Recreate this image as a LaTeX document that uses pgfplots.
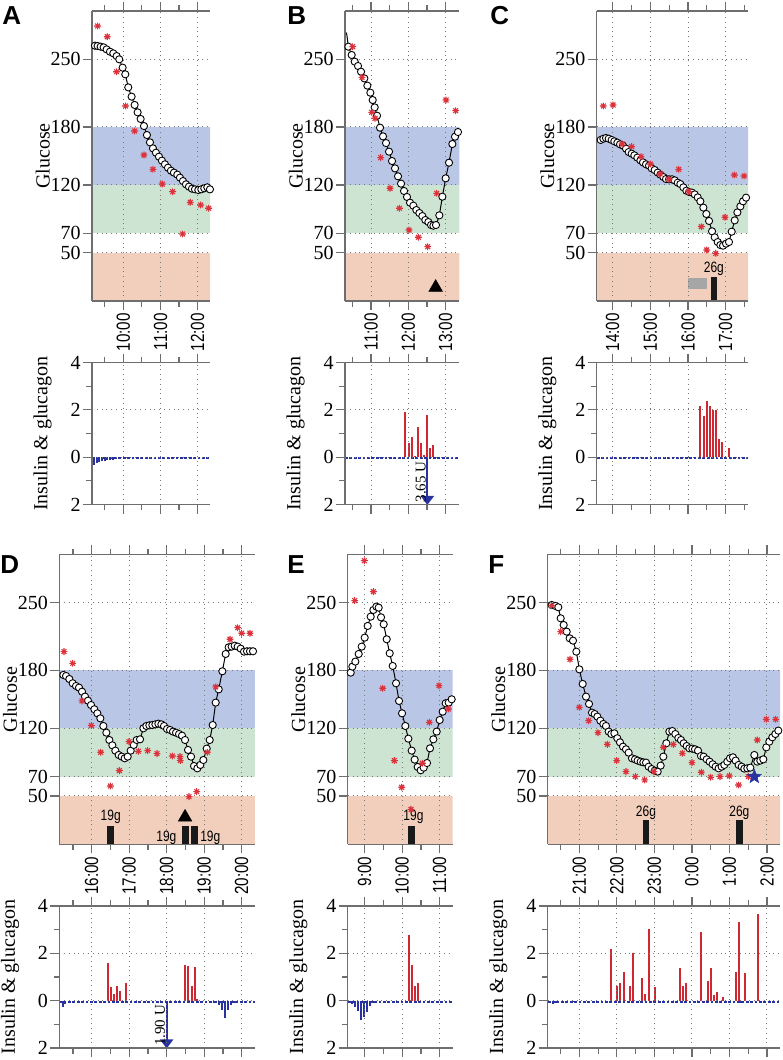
\documentclass[border=0pt]{standalone}
\usepackage{pgfplots}
\pgfplotsset{compat=1.18}
\usetikzlibrary{arrows.meta}
\usepackage{fontspec}
\setmainfont{Liberation Serif}
\newfontfamily\tms{Liberation Serif}
\newfontfamily\timefont[FakeStretch=0.8]{Liberation Sans}
\newfontfamily\helv{Liberation Sans}

\definecolor{bandblue}{RGB}{186,198,230}
\definecolor{bandgreen}{RGB}{204,228,209}
\definecolor{bandorange}{RGB}{242,207,188}
\definecolor{insred}{RGB}{208,40,50}
\definecolor{glucblue}{RGB}{40,50,160}
\definecolor{astred}{RGB}{220,50,60}
\definecolor{gridgray}{RGB}{120,120,120}
\definecolor{axgray}{RGB}{110,110,110}

\pgfdeclareplotmark{ast8}{%
 \pgfpathmoveto{\pgfqpoint{-\pgfplotmarksize}{0pt}}\pgfpathlineto{\pgfqpoint{\pgfplotmarksize}{0pt}}%
 \pgfpathmoveto{\pgfqpoint{0pt}{-\pgfplotmarksize}}\pgfpathlineto{\pgfqpoint{0pt}{\pgfplotmarksize}}%
 \pgfpathmoveto{\pgfqpoint{-0.707\pgfplotmarksize}{-0.707\pgfplotmarksize}}\pgfpathlineto{\pgfqpoint{0.707\pgfplotmarksize}{0.707\pgfplotmarksize}}%
 \pgfpathmoveto{\pgfqpoint{-0.707\pgfplotmarksize}{0.707\pgfplotmarksize}}\pgfpathlineto{\pgfqpoint{0.707\pgfplotmarksize}{-0.707\pgfplotmarksize}}%
 \pgfusepathqstroke}
\pgfdeclareplotmark{fstar}{%
 \pgfpathmoveto{\pgfqpointpolar{90}{\pgfplotmarksize}}%
 \pgfpathlineto{\pgfqpointpolar{126}{0.42\pgfplotmarksize}}%
 \pgfpathlineto{\pgfqpointpolar{162}{\pgfplotmarksize}}%
 \pgfpathlineto{\pgfqpointpolar{198}{0.42\pgfplotmarksize}}%
 \pgfpathlineto{\pgfqpointpolar{234}{\pgfplotmarksize}}%
 \pgfpathlineto{\pgfqpointpolar{270}{0.42\pgfplotmarksize}}%
 \pgfpathlineto{\pgfqpointpolar{306}{\pgfplotmarksize}}%
 \pgfpathlineto{\pgfqpointpolar{342}{0.42\pgfplotmarksize}}%
 \pgfpathlineto{\pgfqpointpolar{18}{\pgfplotmarksize}}%
 \pgfpathlineto{\pgfqpointpolar{54}{0.42\pgfplotmarksize}}%
 \pgfpathclose\pgfusepathqfillstroke}

\pgfplotsset{
  base/.style={scale only axis, axis x line*=box, axis y line*=left, tick align=outside,
    axis line style={axgray, line width=0.6pt}, tick style={axgray, line width=0.6pt},
    major tick length=4.5pt, minor tick length=2.8pt,
    grid=major, major grid style={gridgray, dotted, line width=0.5pt},
    /pgf/number format/assume math mode=true,
    yticklabel style={font=\tms\fontsize{10}{10}\selectfont, inner sep=1pt},
    xticklabel style={font=\timefont\fontsize{9.5}{9.5}\selectfont, rotate=90, anchor=east, inner sep=1.5pt},
    axis on top},
  gluc/.style={base, width=#1, height=145pt, ymin=0, ymax=300, ytick={50,70,120,180,250}},
  ins/.style={base, width=#1, height=71pt, ymin=-2, ymax=4, ytick={-2,0,2,4}, yticklabels={2,0,2,4},
    minor ytick={-1,1,3}, xticklabels={}, clip=false},
  cgm/.style={black, line width=0.5pt, mark=*, mark size=1.8pt, mark options={fill=white, draw=black, line width=0.45pt, solid}},
  ref/.style={only marks, mark=ast8, mark size=1.7pt, color=astred, mark options={line width=0.55pt}},
  insb/.style={ycomb, insred, line width=0.9pt},
  gcb/.style={ycomb, glucblue, line width=0.9pt},
  gline/.style={glucblue, line width=0.9pt, dash pattern=on 1.4pt off 0.8pt},
  carb/.style={ycomb, black!90, line width=3.3pt},
  arr/.style={glucblue, line width=0.9pt, -{Triangle[width=6.5pt,length=4.5pt]}},
}
\newcommand{\bands}{%
 \fill[bandorange] (axis cs:0,0) rectangle (axis cs:30,50);
 \fill[bandgreen] (axis cs:0,70) rectangle (axis cs:30,120);
 \fill[bandblue] (axis cs:0,120) rectangle (axis cs:30,180);}
\newcommand{\smalllab}{\timefont\fontsize{7.5}{7.5}\selectfont}
\newcommand{\arrlab}{\tms\fontsize{7.5}{7.5}\selectfont}
\newcommand{\lab}{\tms\fontsize{10}{10}\selectfont}

\begin{document}
\begin{tikzpicture}
\useasboundingbox (0,0) rectangle (391pt,-530pt);

% ================= A =================
\begin{axis}[gluc=59pt, name=gA, at={(46pt,-5.5pt)}, anchor=north west,
  xmin=9.159, xmax=12.331, xtick={10,11,12}, xticklabels={10:00,11:00,12:00}, minor xtick={9.5,10.5,11.5}]
\bands
\addplot[cgm] coordinates {(9.238,264.1)(9.310,263.8)(9.391,263.1)(9.471,262.4)(9.552,260.3)(9.642,257.9)(9.731,256.2)(9.821,253.4)(9.892,250)(9.982,241.4)(10.054,234.5)(10.134,221)(10.224,211.4)(10.305,202.8)(10.385,195.2)(10.466,188.3)(10.556,181)(10.636,171.7)(10.717,164.1)(10.797,157.9)(10.878,153.4)(10.959,149.3)(11.039,145.2)(11.12,141.4)(11.201,137.9)(11.281,134.8)(11.362,132.8)(11.452,130.7)(11.523,127.6)(11.604,124.1)(11.685,120.7)(11.765,118.3)(11.846,116.2)(11.927,115.5)(12.016,114.8)(12.097,115.5)(12.177,116.6)(12.258,117.6)(12.330,115.5)};
\addplot[ref] coordinates {(9.310,284.5)(9.570,273.4)(9.821,237.2)(10.063,201.7)(10.305,175.9)(10.556,151.0)(10.797,136.2)(11.048,121.0)(11.326,113.1)(11.595,69.3)(11.801,102.1)(12.079,99.3)(12.294,95.9)};
\end{axis}
\begin{axis}[ins=59pt, name=iA, at={(46pt,-181.25pt)}, anchor=north west,
  xmin=9.159, xmax=12.331, xtick={10,11,12}, minor xtick={9.5,10.5,11.5}]
\addplot[gline] coordinates {(9.159,-0.04)(12.331,-0.04)};
\addplot[gcb] coordinates {(9.211,-0.35)(9.283,-0.24)(9.355,-0.21)(9.427,-0.18)(9.498,-0.15)(9.57,-0.14)(9.642,-0.13)(9.713,-0.1)};
\end{axis}

% ================= B =================
\begin{axis}[gluc=57.15pt, name=gB, at={(172.5pt,-5.5pt)}, anchor=north west,
  xmin=10.303, xmax=13.365, xtick={11,12,13}, xticklabels={11:00,12:00,13:00}, minor xtick={10.5,11.5,12.5}]
\bands
\addplot[black, line width=0.5pt] coordinates {(10.31,279)(10.35,276)(10.393,263.1)};
\addplot[cgm] coordinates {(10.393,263.1)(10.482,254.5)(10.563,247.6)(10.652,243.1)(10.732,237.2)(10.821,230.3)(10.902,222.8)(10.982,215.5)(11.045,207.9)(11.098,200.3)(11.161,191.7)(11.241,179.3)(11.321,170.3)(11.402,163.4)(11.482,154.5)(11.563,144.8)(11.643,137.2)(11.723,129.0)(11.804,121.4)(11.884,113.8)(11.964,107.6)(12.045,101.7)(12.134,98.6)(12.214,94.1)(12.295,91.0)(12.375,87.9)(12.455,83.8)(12.536,81.7)(12.607,78.6)(12.670,77.9)(12.741,78.6)(12.830,88.6)(12.911,107.9)(13.0,126.9)(13.089,143.1)(13.179,162.4)(13.25,170)(13.33,174.8)};
\addplot[ref] coordinates {(10.509,263.1)(10.759,231.4)(11.018,195.2)(11.107,189.0)(11.259,148.3)(11.509,116.6)(11.759,95.9)(12.018,73.4)(12.268,65.9)(12.518,56.2)(12.759,111.4)(13.009,207.9)(13.268,196.9)};
\addplot[only marks, mark=triangle*, mark size=3.8pt, black] coordinates {(12.732,14)};
\end{axis}
\begin{axis}[ins=57.15pt, name=iB, at={(172.5pt,-181.25pt)}, anchor=north west,
  xmin=10.303, xmax=13.365, xtick={11,12,13}, minor xtick={10.5,11.5,12.5}]
\addplot[gline] coordinates {(10.303,-0.04)(13.365,-0.04)};
\addplot[insb] coordinates {(11.92,1.91)(12.009,0.61)(12.098,0.86)(12.179,0.05)(12.259,1.27)(12.339,0.61)(12.42,0.11)(12.509,1.80)(12.589,0.37)(12.67,0.51)};
\addplot[arr] coordinates {(12.509,0)(12.509,-2.02)};
\node[rotate=90, anchor=south east, font=\arrlab, inner sep=0.6pt] at (axis cs:12.509,-0.12) {3.65 U};
\end{axis}

% ================= C =================
\begin{axis}[gluc=75.65pt, name=gC, at={(298.35pt,-5.5pt)}, anchor=north west,
  xmin=13.576, xmax=17.592, xtick={14,15,16,17}, xticklabels={14:00,15:00,16:00,17:00}, minor xtick={14.5,15.5,16.5,17.5}]
\bands
\fill[black!35] (axis cs:16.009,12.8) rectangle (axis cs:16.496,23.4);
\addplot[carb] coordinates {(16.686,25)};
\node[font=\smalllab] at (axis cs:16.686,33.5) {26g};
\addplot[cgm] coordinates {(13.681,166.6)(13.752,167.9)(13.823,168.6)(13.894,167.9)(13.973,166.6)(14.044,165.2)(14.124,163.8)(14.195,162.1)(14.274,160.7)(14.354,157.6)(14.425,154.1)(14.504,152.4)(14.575,150.7)(14.655,148.3)(14.735,145.5)(14.805,143.4)(14.885,141.4)(14.965,140)(15.035,137.2)(15.115,135.5)(15.195,132.8)(15.265,130.7)(15.345,128.3)(15.416,126.2)(15.496,125.9)(15.575,125.9)(15.646,124.8)(15.726,122.4)(15.796,121.0)(15.876,117.6)(15.956,114.1)(16.027,112.8)(16.106,112.1)(16.177,110.3)(16.257,107.2)(16.327,103.1)(16.407,96.6)(16.487,90)(16.558,82.8)(16.637,72.1)(16.708,65.9)(16.788,61)(16.858,57.9)(16.929,57.2)(17.009,59.3)(17.088,61)(17.159,71.7)(17.239,83.4)(17.310,91.7)(17.389,97.9)(17.460,103.1)(17.540,106.9)};
\addplot[ref] coordinates {(13.752,201.7)(14.009,202.8)(14.248,162.4)(14.504,159.7)(14.752,149.3)(15.0,141.7)(15.257,131.4)(15.496,125.9)(15.752,136.2)(16.018,113.1)(16.354,76.9)(16.496,52.8)(16.735,49.3)(16.982,86.6)(17.230,130.3)(17.487,129.3)};
\end{axis}
\begin{axis}[ins=75.65pt, name=iC, at={(298.35pt,-181.25pt)}, anchor=north west,
  xmin=13.576, xmax=17.592, xtick={14,15,16,17}, minor xtick={14.5,15.5,16.5,17.5}]
\addplot[gline] coordinates {(13.576,-0.04)(17.592,-0.04)};
\addplot[insb, line width=1.1pt] coordinates {(16.327,2.17)(16.416,1.75)(16.496,2.38)(16.575,2.17)(16.655,1.99)(16.743,1.99)(16.823,0.77)(16.912,0.66)(17.08,0.38)};
\end{axis}

% ================= D =================
\begin{axis}[gluc=97.85pt, name=gD, at={(29.65pt,-277.15pt)}, anchor=north west,
  xmin=15.136, xmax=20.355, xtick={16,17,18,19,20}, xticklabels={16:00,17:00,18:00,19:00,20:00}, minor xtick={15.5,16.5,17.5,18.5,19.5}]
\bands
\addplot[carb] coordinates {(16.506,18.5)(18.497,18.5)(18.745,18.5)};
\node[font=\smalllab] at (axis cs:16.506,28) {19g};
\node[font=\smalllab, anchor=east, inner sep=0.3pt] at (axis cs:18.285,6.5) {19g};
\node[font=\smalllab, anchor=west, inner sep=0.3pt] at (axis cs:18.87,6.5) {19g};
\addplot[only marks, mark=triangle*, mark size=3.8pt, black] coordinates {(18.49,28)};
\addplot[cgm] coordinates {(15.244,175.2)(15.316,174.1)(15.404,171.0)(15.493,166.6)(15.582,163.8)(15.662,162.1)(15.742,157.9)(15.822,152.8)(15.902,148.6)(15.982,144.1)(16.071,139.7)(16.151,135.5)(16.231,130.3)(16.311,122.4)(16.391,115.5)(16.471,107.9)(16.551,102.4)(16.631,96.9)(16.72,92.4)(16.8,90.7)(16.88,89.0)(16.96,90.7)(17.04,96.9)(17.12,102.8)(17.2,107.9)(17.289,108.6)(17.378,120)(17.458,122.4)(17.538,123.1)(17.618,123.4)(17.698,124.1)(17.778,124.8)(17.858,124.1)(17.929,122.4)(18.009,119.3)(18.089,118.3)(18.169,116.6)(18.249,115.5)(18.329,114.1)(18.409,112.4)(18.489,107.9)(18.569,97.6)(18.649,90.7)(18.729,81.0)(18.818,78.6)(18.898,82.1)(18.978,87.2)(19.067,99.0)(19.147,107.9)(19.227,123.4)(19.307,146.6)(19.387,160.3)(19.484,179)(19.573,196.9)(19.653,203.8)(19.733,204.5)(19.813,205.5)(19.893,204.5)(19.973,202.4)(20.062,199.3)(20.142,199.7)(20.222,199.7)(20.302,199.7)};
\addplot[ref] coordinates {(15.262,199.3)(15.493,187.2)(15.742,148.3)(15.991,122.8)(16.24,95.2)(16.498,60.3)(16.738,76.2)(16.996,106.2)(17.244,96.2)(17.493,96.9)(17.742,93.8)(18.151,91.4)(18.356,90.7)(18.364,86.6)(18.596,49.3)(18.8,54.5)(19.084,95.2)(19.307,162.8)(19.689,212.1)(19.893,224.1)(20.0,218.3)(20.222,218.3)};
\end{axis}
\begin{axis}[ins=97.85pt, name=iD, at={(29.65pt,-453pt)}, anchor=north west,
  xmin=15.136, xmax=20.355, xtick={16,17,18,19,20}, minor xtick={15.5,16.5,17.5,18.5,19.5}]
\addplot[gline] coordinates {(15.136,-0.04)(20.355,-0.04)};
\addplot[insb] coordinates {(16.427,1.61)(16.507,0.59)(16.587,0.28)(16.667,0.62)(16.747,0.42)(16.916,0.73)(18.489,1.51)(18.578,1.46)(18.667,0.63)(18.747,1.41)(18.818,0.05)};
\addplot[gcb] coordinates {(15.227,-0.25)(15.298,-0.14)(19.316,-0.11)(19.396,-0.18)(19.476,-0.39)(19.556,-0.75)(19.636,-0.39)(19.716,-0.18)(19.796,-0.08)};
\addplot[arr] coordinates {(18.0,0)(18.0,-2.02)};
\node[rotate=90, anchor=south east, font=\arrlab, inner sep=0.6pt] at (axis cs:18.0,-0.12) {1.90 U};
\end{axis}

% ================= E =================
\begin{axis}[gluc=52.5pt, name=gE, at={(173.85pt,-277.15pt)}, anchor=north west,
  xmin=8.547, xmax=11.347, xtick={9,10,11}, xticklabels={9:00,10:00,11:00}, minor xtick={9.5,10.5}]
\bands
\addplot[carb] coordinates {(10.256,18.5)};
\node[font=\smalllab] at (axis cs:10.30,28) {19g};
\addplot[cgm] coordinates {(8.627,177.6)(8.671,183.8)(8.751,189.0)(8.84,196.9)(8.92,204.5)(9.0,213.8)(9.08,225.9)(9.16,235.5)(9.231,242.4)(9.311,245.9)(9.373,244.8)(9.436,234.8)(9.507,227.6)(9.587,212.1)(9.667,197.6)(9.747,184.5)(9.836,166.6)(9.916,148.3)(9.996,135.5)(10.084,122.4)(10.164,109.3)(10.253,96.9)(10.333,87.6)(10.413,80)(10.493,76.6)(10.573,79.3)(10.662,84.1)(10.742,99.3)(10.831,108.6)(10.92,116.6)(11.0,128.6)(11.08,137.2)(11.16,145.9)(11.24,146.6)(11.32,150)};
\addplot[ref] coordinates {(8.733,252.1)(8.991,293.4)(9.231,261.4)(9.48,161.4)(9.791,86.6)(9.987,59)(10.236,36.2)(10.538,83.8)(10.724,126.2)(10.982,164.1)(11.231,140)};
\end{axis}
\begin{axis}[ins=52.5pt, name=iE, at={(173.85pt,-453pt)}, anchor=north west,
  xmin=8.547, xmax=11.347, xtick={9,10,11}, minor xtick={9.5,10.5}]
\addplot[gline] coordinates {(8.547,-0.04)(11.347,-0.04)};
\addplot[insb] coordinates {(10.182,2.77)(10.262,1.51)(10.342,0.63)(10.422,0.76)};
\addplot[gcb] coordinates {(8.609,-0.08)(8.671,-0.14)(8.751,-0.25)(8.831,-0.42)(8.911,-0.82)(8.991,-0.68)(9.071,-0.46)(9.151,-0.23)(9.231,-0.11)(9.311,-0.06)};
\end{axis}

% ================= F =================
\begin{axis}[gluc=116.15pt, name=gF, at={(273.85pt,-277.15pt)}, anchor=north west,
  xmin=20.157, xmax=26.347, xtick={21,22,23,24,25,26}, xticklabels={21:00,22:00,23:00,0:00,1:00,2:00}, minor xtick={20.5,21.5,22.5,23.5,24.5,25.5}]
\bands
\addplot[carb] coordinates {(22.776,25)(25.265,25)};
\node[font=\smalllab] at (axis cs:22.776,33) {26g};
\node[font=\smalllab] at (axis cs:25.265,33) {26g};
\addplot[cgm] coordinates {(20.263,247.6)(20.361,246.6)(20.44,245.2)(20.503,233.8)(20.583,226.9)(20.663,220)(20.742,213.1)(20.831,210.7)(20.92,199.3)(21.0,181)(21.089,165.9)(21.178,152.8)(21.258,145.2)(21.337,136.2)(21.409,134.8)(21.48,132.1)(21.56,127.9)(21.639,124.5)(21.71,122.4)(21.782,116.6)(21.853,114.1)(21.933,114.8)(22.012,109.7)(22.083,105.5)(22.163,101.0)(22.243,98.3)(22.314,94.8)(22.403,89.0)(22.483,87.9)(22.554,86.6)(22.634,85.5)(22.705,84.8)(22.776,84.5)(22.847,80.3)(22.927,77.9)(23.007,76.2)(23.087,75.2)(23.167,81.4)(23.238,90.7)(23.318,104.5)(23.398,116.6)(23.478,117.2)(23.558,114.1)(23.638,110)(23.709,107.9)(23.78,104.5)(23.86,101.7)(23.931,99.3)(24.011,99.0)(24.082,98.3)(24.162,96.9)(24.242,91.4)(24.313,90.7)(24.393,87.9)(24.472,85.5)(24.552,82.8)(24.632,80.3)(24.712,78.6)(24.792,80.3)(24.863,82.1)(24.943,85.5)(25.014,89)(25.094,90)(25.165,86.6)(25.245,82.1)(25.325,80.3)(25.396,78.3)(25.476,78.6)(25.556,79.3)(25.663,92.4)(25.742,85.5)(25.822,86.6)(25.902,87.9)(25.982,100.3)(26.062,106.2)(26.142,110.7)(26.222,114.1)(26.302,117.6)};
\addplot[ref] coordinates {(20.263,246.9)(20.503,220)(20.751,191.4)(21.0,141.7)(21.249,127.9)(21.497,115.5)(21.746,103.4)(21.995,86.6)(22.243,75.2)(22.492,70)(22.741,66.6)(22.989,75.2)(23.238,100.3)(23.504,103.4)(23.744,94.1)(24.002,84.5)(24.25,74.5)(24.499,69.3)(24.748,70)(24.996,70.7)(25.245,61.4)(25.503,70)(25.742,107.9)(25.982,129.3)(26.231,129.3)};
\addplot[only marks, mark=fstar, mark size=3.6pt, glucblue, mark options={fill=glucblue, line width=0.3pt}] coordinates {(25.663,70)};
\end{axis}
\begin{axis}[ins=116.15pt, name=iF, at={(273.85pt,-453pt)}, anchor=north west,
  xmin=20.157, xmax=26.347, xtick={21,22,23,24,25,26}, minor xtick={20.5,21.5,22.5,23.5,24.5,25.5}]
\addplot[gline] coordinates {(20.157,-0.04)(26.347,-0.04)};
\addplot[insb] coordinates {(21.844,2.17)(22.012,0.63)(22.092,0.73)(22.181,1.23)(22.341,0.63)(22.43,2.0)(22.679,0.94)(22.758,0.28)(22.847,3.01)(23.007,0.59)(23.682,1.38)(23.753,0.63)(23.833,0.73)(24.25,2.9)(24.428,0.83)(24.508,1.38)(24.588,0.24)(24.668,0.38)(24.837,0.14)(25.174,1.23)(25.254,3.31)(25.423,1.18)(25.751,3.65)};
\addplot[gcb] coordinates {(20.307,-0.15)(20.378,-0.08)(20.84,-0.06)(25.3,-0.1)};
\end{axis}

% ---------- y labels ----------
\foreach \n in {gA,gB,gC,gD,gE,gF}{
  \node[rotate=90, font=\lab] at ([xshift=-24.65pt]\n.west) {Glucose};
}
\foreach \n in {iA,iB,iC,iD,iE,iF}{
  \node[rotate=90, font=\lab] at ([xshift=-24.65pt]\n.west) {Insulin \& glucagon};
}
% ---------- panel letters ----------
\begin{scope}[every node/.style={anchor=base west, inner sep=0pt, font=\helv\bfseries\fontsize{13}{13}\selectfont}]
\node at (1pt,-12.5pt) {A};
\node at (143.5pt,-12.5pt) {B};
\node at (245pt,-12.5pt) {C};
\node at (0pt,-286.5pt) {D};
\node at (143.5pt,-286.5pt) {E};
\node at (244pt,-286.5pt) {F};
\end{scope}
\end{tikzpicture}
\end{document}
